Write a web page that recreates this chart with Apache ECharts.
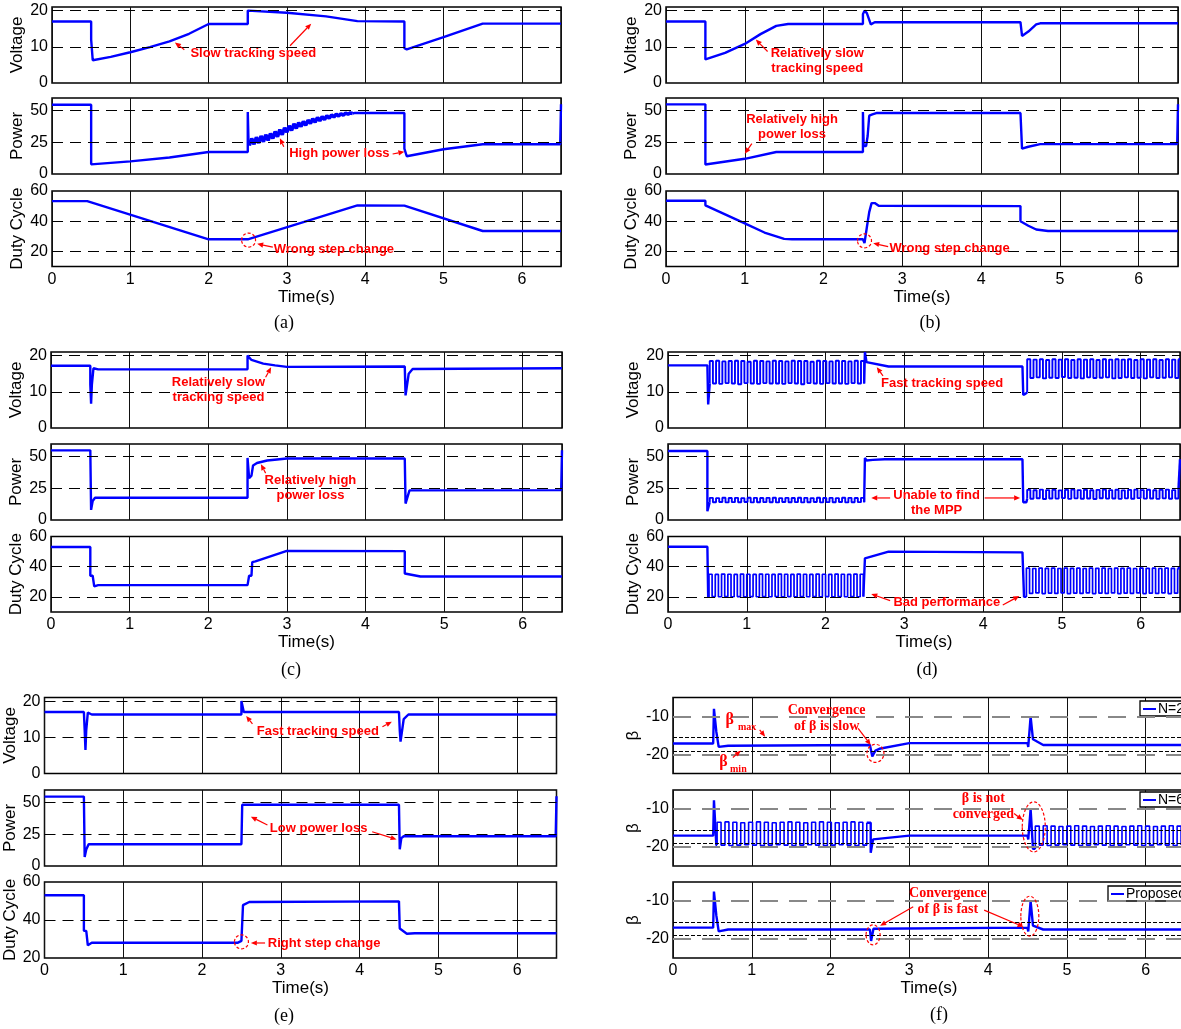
<!DOCTYPE html>
<html><head><meta charset="utf-8">
<script src="https://cdn.jsdelivr.net/npm/echarts@6/dist/echarts.min.js"></script>
<style>html,body{margin:0;padding:0;background:#fff}#c{width:1181px;height:1029px}</style>
</head><body><div id="c"></div>
<script>
// ---------------- DATA (time in s) ----------------
const timeTicks = [0,1,2,3,4,5,6];
const voltTicks = [0,10,20];
const powerTicks = [0,25,50];
const dutyTicks = [20,40,60];
const betaTicks = [-20,-10];
const betaMax = -15.5;
const betaMin = -19.1;

// (a)
const aVolt = [[0,17],[0.5,17],[0.5,12],[0.52,6.3],[0.75,7.2],[1,8.5],[1.25,9.9],[1.5,11.5],[1.75,13.6],[2,16.3],[2.5,16.3],[2.5,20],[3,19.4],[3.5,18.4],[3.9,17.1],[4.5,17],[4.5,9.6],[4.53,9.3],[5,12.7],[5.5,16.4],[6.5,16.4]];
const aPower1 = [[0,54.7],[0.5,54.7],[0.5,7.6],[1,10],[1.5,13],[2,17.4],[2.5,17.4],[2.5,49],[2.51,24],[2.52,22.5]];
const aBandStart = 2.52, aBandStep = 0.03;
const aPowerBand = [22.5,28,23.5,29,24.5,30,25.5,31,26.5,32, 28,33.5,29.5,35,31,36.5,33,38,34.5,39.5, 36,40.5,37.5,41.5,38.5,42.5,40,43.5,41,44.5, 42,45.3,43,46,44,46.6,45,47.2,45.8,47.6, 46.5,48,47.2,48.2,47.8];
const aPower2 = [[3.84,47.8],[3.87,48.2],[4.5,48.2],[4.5,20],[4.53,14],[5,19.5],[5.5,23.5],[6.49,23.5],[6.5,55]];
const aDuty = [[0,53.3],[0.45,53.3],[2,28],[2.5,28],[3.9,50.5],[4.5,50.3],[5.5,33.5],[6.5,33.5]];

// (b)
const bVolt = [[0,17],[0.5,17],[0.5,6.5],[0.75,8.3],[1,10.8],[1.2,13.5],[1.4,15.8],[1.55,16.3],[2.5,16.3],[2.5,19],[2.52,20],[2.55,19.3],[2.6,16.2],[2.65,16.8],[4.5,16.8],[4.52,13],[4.6,14.2],[4.7,16.2],[4.75,16.5],[6.5,16.5]];
const bPower = [[0,55],[0.5,55],[0.5,7.5],[1,12],[1.4,17.4],[2.5,17.4],[2.5,49],[2.51,22],[2.54,22],[2.56,30],[2.58,46],[2.62,47],[2.68,48.2],[4.5,48.2],[4.52,20],[4.6,21.5],[4.75,23.6],[6.49,23.6],[6.5,55]];
const bDuty = [[0,53.5],[0.5,53.5],[0.5,50.5],[0.75,44.5],[1,38.5],[1.25,32.5],[1.5,28.3],[1.6,28],[2.5,28],[2.52,25.5],[2.54,26],[2.55,36],[2.57,36],[2.58,46],[2.6,46],[2.61,52],[2.65,52],[2.7,50.2],[4.5,50],[4.5,40],[4.6,37],[4.7,34.5],[4.85,33.5],[6.5,33.5]];

// (c)
const cVolt = [[0,17.2],[0.5,17.2],[0.5,12],[0.51,6.7],[0.52,12],[0.54,16.5],[0.6,16.2],[2.5,16.2],[2.5,20],[2.55,18.8],[2.7,17.8],[2.85,17.3],[3,16.9],[4.5,17],[4.51,9],[4.53,8.7],[4.55,15],[4.6,16.3],[6.5,16.5]];
const cPower = [[0,55],[0.5,55],[0.51,8],[0.53,15],[0.56,17.6],[2.5,17.6],[2.5,49],[2.52,33],[2.55,35],[2.57,43],[2.62,45],[2.75,47],[3,48.5],[4.5,48.5],[4.51,13],[4.53,14],[4.56,23.4],[6.49,23.6],[6.5,55]];
const cDuty = [[0,53],[0.5,53],[0.5,34],[0.53,34],[0.55,27],[0.6,27.8],[2.5,27.8],[2.52,34],[2.55,34],[2.56,43],[2.6,43.5],[3,50.5],[4.5,50.3],[4.5,35.5],[4.7,33.5],[6.5,33.5]];

// (d)
const dOscStep = 0.04;
const dVolt1 = [[0,17.3],[0.5,17.3],[0.51,6.5],[0.52,6.5],[0.53,12.3]];
const dVoltOsc1Start = 0.53;
const dVoltOsc1 = [18.5,12.3,18.6,12.2,18.4,12.4,18.5,12.3,18.6,12.1, 18.5,12.4,18.3,12.3,18.6,12.2,18.5,12.4,18.4,12.3, 18.6,12.3,18.5,12.2,18.4,12.4,18.6,12.3,18.5,12.1, 18.5,12.4,18.3,12.3,18.6,12.2,18.5,12.4,18.4,12.3, 18.6,12.3,18.5,12.2,18.4,12.4,18.6,12.3,18.5,12.3];
const dVolt2 = [[2.49,12.3],[2.5,12.3],[2.5,21],[2.51,21],[2.52,18.2],[2.8,17],[4.5,17],[4.51,9.1],[4.54,9.5],[4.56,9.8]];
const dVoltOsc2Start = 4.56;
const dVoltOsc2 = [19,13.8,18.9,14,19,13.7,18.8,13.9,19,13.8, 18.9,14.1,19,13.8,18.8,13.9,19,13.7,18.9,14, 19,13.8,18.8,13.9,19,14,18.9,13.7,19,13.8, 18.9,14,19,13.8,18.8,13.9,19,13.7,18.9,14, 19,13.8,18.8,13.9,19,14,18.9,13.8,19];
const dVolt3 = [[6.48,19],[6.5,19]];

const dPower1 = [[0,54.5],[0.5,54.5],[0.5,7],[0.52,7],[0.53,14]];
const dPowerOsc1Start = 0.53;
const dPowerOsc1 = [17.5,14,17.3,14.2,17.6,13.9,17.4,14.1,17.5,14, 17.3,14.2,17.6,13.9,17.5,14,17.4,14.1,17.5,14, 17.6,13.9,17.3,14.2,17.5,14,17.4,14.1,17.6,13.9, 17.5,14,17.3,14.2,17.6,13.9,17.4,14.1,17.5,14, 17.3,14.2,17.6,13.9,17.5,14,17.4,14.1,17.5,14];
const dPower2 = [[2.49,14],[2.5,14],[2.5,49],[2.52,47],[2.6,47.5],[2.75,48],[4.5,48],[4.51,14],[4.55,14],[4.56,16.8]];
const dPowerOsc2Start = 4.56;
const dPowerOsc2 = [23.8,16.8,23.5,17.2,24,16.6,23.6,17,23.9,16.9, 23.4,17.3,23.8,16.7,24,17.1,23.6,16.8,23.9,17, 23.5,16.6,23.8,17.2,24,16.9,23.6,17,23.9,16.7, 23.4,17.1,23.8,16.8,24,17.3,23.6,16.9,23.9,17, 23.5,16.7,23.8,17.1,24,16.8,23.6,17,23.8];
const dPower3 = [[6.48,23.8],[6.5,23.8],[6.5,48]];

const dDuty1 = [[0,53.2],[0.5,53.2],[0.51,53.2],[0.51,20],[0.52,20]];
const dDutyOsc1Start = 0.52;
const dDutyOsc1 = [35,20.2,34.9,20.1,35.1,20.2,35,20.1,34.9,20.2, 35.1,20.1,35,20.2,34.9,20.1,35.1,20.2,35,20.1, 34.9,20.2,35.1,20.1,35,20.2,34.9,20.1,35.1,20.2, 35,20.1,34.9,20.2,35.1,20.1,35,20.2,34.9,20.1, 35.1,20.2,35,20.1,34.9,20.2,35.1,20.1,35,20.2];
const dDuty2 = [[2.48,20.2],[2.5,20.2],[2.5,45.5],[2.8,50],[4.5,49.5],[4.52,49.5],[4.52,20],[4.55,20]];
const dDutyOsc2Start = 4.55;
const dDutyOsc2 = [39,22.3,38.8,22.6,39.1,22.2,38.9,22.5,39,22.3, 38.8,22.6,39.1,22.2,38.9,22.5,39,22.3,38.8,22.6, 39.1,22.2,38.9,22.5,39,22.3,38.8,22.6,39.1,22.2, 38.9,22.5,39,22.3,38.8,22.6,39.1,22.2,38.9,22.5, 39,22.3,38.8,22.6,39.1,22.2,38.9,22.5,39];
const dDuty3 = [[6.47,39],[6.5,39]];

// (e)
const eVolt = [[0,17],[0.5,17],[0.51,12],[0.52,6.5],[0.53,12],[0.55,16.8],[0.6,16.3],[2.5,16.3],[2.5,20],[2.52,20],[2.53,17],[4.5,17],[4.51,12],[4.52,8.8],[4.54,9],[4.56,15],[4.62,16.3],[6.5,16.3]];
const ePower = [[0,54.8],[0.5,54.8],[0.51,7.1],[0.53,13],[0.56,17.2],[2.5,17.2],[2.51,48.3],[4.5,48.3],[4.51,13.2],[4.53,22],[4.56,23.5],[6.49,23.5],[6.5,55]];
const eDuty = [[0,53],[0.5,53],[0.5,34.3],[0.53,34.3],[0.55,26.7],[0.6,28],[2.45,28],[2.5,29],[2.52,47.8],[2.6,49.5],[4.5,49.8],[4.51,35.5],[4.6,32.8],[4.7,33],[6.5,33]];

// (f)
const fOscStep = 0.05;
const fN2 = [[0,-17.1],[0.51,-17.1],[0.52,-8],[0.545,-8],[0.55,-14],[0.57,-14],[0.58,-18],[0.7,-17.7],[2.5,-17.5],[2.51,-17.5],[2.53,-20.5],[2.55,-20.3],[2.57,-19],[2.62,-18.5],[3,-17],[4.5,-17],[4.51,-18],[4.53,-18],[4.54,-10],[4.56,-10],[4.57,-16],[4.7,-17.5],[6.5,-17.5]];
const fN6a = [[0,-17],[0.51,-17],[0.52,-7.7],[0.545,-7.7],[0.55,-19.5],[0.56,-19.5]];
const fN6Osc1Start = 0.56;
const fN6Osc1 = [-13.5,-19.5,-13.4,-19.6,-13.5,-19.5,-13.6,-19.4,-13.5,-19.5, -13.4,-19.6,-13.5,-19.5,-13.6,-19.4,-13.5,-19.5,-13.4,-19.6, -13.5,-19.5,-13.6,-19.4,-13.5,-19.5,-13.4,-19.6,-13.5,-19.5, -13.6,-19.4,-13.5,-19.5,-13.4,-19.6,-13.5,-19.5,-13.6];
const fN6b = [[2.46,-13.6],[2.51,-13.6],[2.51,-21.5],[2.53,-21.5],[2.54,-18],[3,-17],[4.5,-17],[4.51,-18],[4.53,-18],[4.54,-10],[4.56,-10],[4.57,-20.5],[4.6,-20.5]];
const fN6Osc2Start = 4.6;
const fN6Osc2 = [-14.5,-19.5,-14.4,-19.6,-14.5,-19.5,-14.6,-19.4,-14.5,-19.5, -14.4,-19.6,-14.5,-19.5,-14.6,-19.4,-14.5,-19.5,-14.4,-19.6, -14.5,-19.5,-14.6,-19.4,-14.5,-19.5,-14.4,-19.6,-14.5,-19.5, -14.6,-19.4,-14.5,-19.5,-14.4,-19.6,-14.5,-19.5];
const fN6c = [[6.45,-19.5],[6.5,-19.5]];
const fProp = [[0,-17],[0.51,-17],[0.52,-7.5],[0.545,-7.5],[0.55,-13.8],[0.57,-13.8],[0.58,-18],[0.7,-17.5],[2.5,-17.5],[2.51,-17.5],[2.515,-20.5],[2.54,-20.5],[2.545,-17.3],[4.5,-17],[4.51,-18],[4.53,-18],[4.54,-10],[4.56,-10],[4.57,-16.5],[4.7,-17.5],[6.5,-17.5]];

const seriesNames = ['N=2','N=6','Proposed'];

// ---------------- LAYOUT ----------------
const panelX = [[52,509],[666,512],[51,511],[668,512],[44.5,512],[673,512]];
const rowY = [[[7,76],[98,76],[191,75.5]],[[352,76],[444,76],[536.5,75.5]],[[697.5,76],[790,76],[882,76]]];
const panelLabels = [['(a)',284,323],['(b)',930,323],['(c)',291,670],['(d)',927,670],['(e)',284,1016],['(f)',939,1015]];

const AX_V = {min:0,max:21,ticks:voltTicks,grid:[10,20],name:'Voltage',gap:21};
const AX_P = {min:0,max:60,ticks:powerTicks,grid:[25,50],name:'Power',gap:21};
const AX_D = {min:10,max:60,ticks:dutyTicks,grid:[20,40],name:'Duty Cycle',gap:21};
const AX_DE = {min:20,max:60,ticks:dutyTicks,grid:[40],name:'Duty Cycle',gap:21};
const AX_B = {min:-25,max:-5,ticks:betaTicks,grid:[-10,-20],name:'β',gap:26,beta:true};
const axisSpec = [[AX_V,AX_P,AX_D],[AX_V,AX_P,AX_D],[AX_V,AX_P,AX_D],[AX_V,AX_P,AX_D],[AX_V,AX_P,AX_DE],[AX_B,AX_B,AX_B]];

const traceDefs = [
  [0,[aVolt]],
  [1,[aPower1,{vals:aPowerBand,t0:aBandStart,dt:aBandStep,step:false,w:3.6},aPower2]],
  [2,[aDuty]],
  [3,[bVolt]],[4,[bPower]],[5,[bDuty]],
  [6,[cVolt]],[7,[cPower]],[8,[cDuty]],
  [9,[dVolt1,{vals:dVoltOsc1,t0:dVoltOsc1Start,dt:dOscStep,step:true,w:1.9},dVolt2,{vals:dVoltOsc2,t0:dVoltOsc2Start,dt:dOscStep,step:true,w:1.9},dVolt3]],
  [10,[dPower1,{vals:dPowerOsc1,t0:dPowerOsc1Start,dt:dOscStep,step:true,w:1.9},dPower2,{vals:dPowerOsc2,t0:dPowerOsc2Start,dt:dOscStep,step:true,w:1.9},dPower3]],
  [11,[dDuty1,{vals:dDutyOsc1,t0:dDutyOsc1Start,dt:dOscStep,step:true,w:1.7},dDuty2,{vals:dDutyOsc2,t0:dDutyOsc2Start,dt:dOscStep,step:true,w:1.7},dDuty3]],
  [12,[eVolt]],[13,[ePower]],[14,[eDuty]],
  [15,[fN2],seriesNames[0]],
  [16,[fN6a,{vals:fN6Osc1,t0:fN6Osc1Start,dt:fOscStep,step:true,w:1.6},fN6b,{vals:fN6Osc2,t0:fN6Osc2Start,dt:fOscStep,step:true,w:1.6},fN6c],seriesNames[1]],
  [17,[fProp],seriesNames[2]]
];

// annotations (data coords of their grid)
const notes = [
  [0,2.57,8.3,'Slow tracking speed'],[1,3.67,16.3,'High power loss'],[2,3.6,21.5,'Wrong step change'],
  [3,1.92,6,'Relatively slow\ntracking speed'],[4,1.6,37,'Relatively high\npower loss'],[5,3.6,22,'Wrong step change'],
  [6,2.13,10.5,'Relatively slow\ntracking speed'],[7,3.3,25.6,'Relatively high\npower loss'],
  [9,3.48,12.2,'Fast tracking speed'],[10,3.41,13.7,'Unable to find\nthe MPP'],[11,3.54,16.2,'Bad performance'],
  [12,3.47,11.5,'Fast tracking speed'],[13,3.48,29.8,'Low power loss'],[14,3.55,27.9,'Right step change']
];
const serifNotes = [
  [15,1.95,-10.6,'Convergence\nof β is slow',14],[16,3.94,-9.4,'β is not\nconverged',14],[17,3.49,-10.1,'Convergence\nof β is fast',14],
  [15,0.72,-11,'β',16],[15,0.94,-12.9,'max',10],[15,0.64,-21.9,'β',16],[15,0.83,-23.9,'min',10]
];
const arrows = [
  [0,1.69,9.2,1.57,11.2],[0,3.04,10.3,3.31,16.4],
  [1,2.96,21.6,2.91,28.2],[1,4.35,15.8,4.5,17.6],
  [2,2.82,22.8,2.62,25],
  [3,1.29,8.7,1.14,12],[4,1.09,24,1.0,16],[5,2.82,23.2,2.63,25.4],
  [6,2.73,14,2.8,16.8],[7,2.73,37,2.67,44],
  [9,2.73,14.4,2.65,16.8],[10,2.82,17.4,2.58,17.4],[10,4.02,17.4,4.47,17.4],
  [11,2.82,17.5,2.58,21.9],[11,4.25,14.6,4.46,20.6],
  [12,2.64,13.7,2.56,15.9],[12,4.29,12.9,4.41,14.3],
  [13,2.83,32.4,2.62,38.9],[13,4.16,27,4.47,21],
  [14,2.8,27.9,2.62,27.9],
  [15,1.1,-13.5,1.17,-15.3],[15,0.76,-20.8,0.86,-19],[15,2.35,-13.1,2.51,-17.5],
  [16,4.33,-11.2,4.44,-12.9],
  [17,3.05,-11.5,2.63,-16.5],[17,3.95,-12.4,4.45,-16.8]
];
const circles = [
  [2,2.51,27.5,7,7],[5,2.52,27,7,7],[14,2.5,28.5,7,7],
  [15,2.57,-19.7,8.5,9],[16,4.58,-14.7,11.5,25],[17,2.54,-18.9,7,10],[17,4.53,-14,9,20]
];
const legendPos = [[1140,701],[1140,792],[1108,886]];

// ---------------- BUILD ----------------
const FONT = '"Liberation Sans", Arial, sans-serif';
const BLUE = '#0000ff';
const grid = [], xAxis = [], yAxis = [], series = [];
for (let p = 0; p < 6; p++) {
  const row = Math.floor(p / 2);
  for (let s = 0; s < 3; s++) {
    const g = p * 3 + s;
    const ax = axisSpec[p][s];
    grid.push({left: panelX[p][0], width: panelX[p][1], top: rowY[row][s][0], height: rowY[row][s][1],
      show: true, borderColor: '#000', borderWidth: 1.5, backgroundColor: '#fff', containLabel: false, outerBoundsMode: 'none'});
    xAxis.push({gridIndex: g, type: 'value', min: 0, max: 6.5, interval: 1,
      axisLine: {show: false}, axisTick: {show: false},
      splitLine: {show: true, lineStyle: {color: '#111', width: 1}},
      axisLabel: {show: s === 2, customValues: timeTicks, fontSize: 16, color: '#000', margin: 5, fontFamily: FONT},
      name: s === 2 ? 'Time(s)' : '', nameLocation: 'middle', nameGap: 17,
      nameTextStyle: {fontSize: 17, color: '#000', fontFamily: FONT}});
    yAxis.push({gridIndex: g, type: 'value', min: ax.min, max: ax.max,
      axisLine: {show: false}, axisTick: {show: false}, splitLine: {show: false},
      axisLabel: {customValues: ax.ticks, fontSize: 16, color: '#000', margin: 4, fontFamily: FONT},
      name: ax.name, nameLocation: 'middle', nameRotate: 90, nameGap: ax.gap,
      nameTextStyle: {fontSize: 17, color: '#000', fontFamily: FONT}});
    const ml = ax.grid.map(v => ({yAxis: v}));
    if (ax.beta) {
      ml.push({yAxis: betaMax, lineStyle: {color: '#000', type: [4, 2], width: 1}});
      ml.push({yAxis: betaMin, lineStyle: {color: '#000', type: [4, 2], width: 1}});
    }
    series.push({type: 'line', xAxisIndex: g, yAxisIndex: g, data: [[0, ax.min]], symbol: 'none', silent: true, z: 1,
      lineStyle: {opacity: 0},
      markLine: {silent: true, symbol: ['none', 'none'], label: {show: false}, animation: false,
        lineStyle: ax.beta ? {color: '#888', type: [18, 11], width: 1.8} : {color: '#000', type: [11, 7], width: 1},
        emphasis: {disabled: true}, data: ml}});
  }
}
traceDefs.forEach(([g, parts, name]) => {
  parts.forEach((part, i) => {
    if (Array.isArray(part)) {
      series.push({type: 'line', name: i === 0 ? name : undefined, xAxisIndex: g, yAxisIndex: g, data: part,
        symbol: 'none', z: 3, lineStyle: {color: BLUE, width: 2.4}, itemStyle: {color: BLUE}, silent: true});
    } else {
      const prev = parts[i - 1], next = parts[i + 1];
      const pts = [prev[prev.length - 1]];
      part.vals.forEach((v, k) => pts.push([part.t0 + k * part.dt, v]));
      pts.push(next[0]);
      series.push({type: 'line', xAxisIndex: g, yAxisIndex: g, data: pts, symbol: 'none', z: 3,
        step: part.step ? 'end' : false, lineStyle: {color: BLUE, width: part.w}, silent: true});
    }
  });
});
const legend = seriesNames.map((n, i) => ({data: [n], left: legendPos[i][0], top: legendPos[i][1], orient: 'horizontal',
  backgroundColor: '#fff', borderColor: '#000', borderWidth: 1.3, padding: [1, 3, 0, 3], icon: 'rect', itemWidth: 13, itemHeight: 2,
  itemGap: 2, selectedMode: false, textStyle: {fontSize: 14, color: '#000', fontFamily: FONT, padding: [0, 0, 0, -3]}}));

const chart = echarts.init(document.getElementById('c'), null, {renderer: 'canvas', width: 1181, height: 1029});
chart.setOption({backgroundColor: '#fff', animation: false, textStyle: {fontFamily: FONT}, grid, xAxis, yAxis, series, legend});

const px = (g, t, v) => chart.convertToPixel({gridIndex: g}, [t, v]);
const graphic = [];
panelLabels.forEach(([t, x, y]) => graphic.push({type: 'text', x, y, z: 100,
  style: {text: t, font: '18px "Liberation Serif", serif', fill: '#000', textAlign: 'center', textVerticalAlign: 'middle', align: 'center', verticalAlign: 'middle'}}));
notes.forEach(([g, t, v, text]) => { const [x, y] = px(g, t, v); graphic.push({type: 'text', x, y, z: 100,
  style: {text, font: 'bold 13px ' + FONT, fill: '#ff0000', lineHeight: 15, textAlign: 'center', textVerticalAlign: 'middle', align: 'center', verticalAlign: 'middle'}}); });
serifNotes.forEach(([g, t, v, text, fs]) => { const [x, y] = px(g, t, v); graphic.push({type: 'text', x, y, z: 100,
  style: {text, font: 'bold ' + fs + 'px "Liberation Serif", serif', fill: '#ff0000', lineHeight: fs + 2, textAlign: 'center', textVerticalAlign: 'middle', align: 'center', verticalAlign: 'middle'}}); });
arrows.forEach(([g, t1, v1, t2, v2]) => {
  const [x1, y1] = px(g, t1, v1), [x2, y2] = px(g, t2, v2);
  const a = Math.atan2(y2 - y1, x2 - x1), L = 6, W = 2.6;
  const bx = x2 - L * Math.cos(a), by = y2 - L * Math.sin(a);
  graphic.push({type: 'line', z: 100, shape: {x1, y1, x2: bx, y2: by}, style: {stroke: '#ff0000', lineWidth: 1.2}});
  graphic.push({type: 'polygon', z: 100, shape: {points: [[x2, y2], [bx - W * Math.sin(a), by + W * Math.cos(a)], [bx + W * Math.sin(a), by - W * Math.cos(a)]]}, style: {fill: '#ff0000'}});
});
circles.forEach(([g, t, v, rx, ry]) => { const [cx, cy] = px(g, t, v);
  graphic.push({type: 'ellipse', z: 100, shape: {cx, cy, rx, ry}, style: {stroke: '#ff0000', fill: 'none', lineWidth: 1.2, lineDash: [3, 2]}}); });
chart.setOption({graphic});
</script></body></html>
